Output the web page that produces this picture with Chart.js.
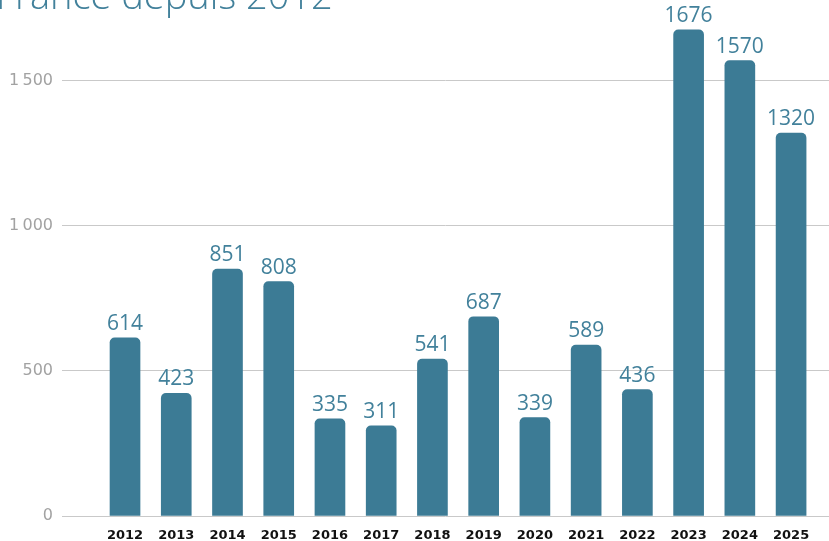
<!DOCTYPE html>
<html>
<head>
<meta charset="utf-8">
<script src="https://cdn.jsdelivr.net/npm/chart.js@4.4.1/dist/chart.umd.min.js"></script>
<style>
  html, body { margin: 0; padding: 0; background: #fff; }
  #wrap { position: relative; width: 829px; height: 541px; }
</style>
</head>
<body>
<div id="wrap"><canvas id="myChart" width="829" height="541"></canvas></div>
<script>
// yearly totals
var years = ['2012', '2013', '2014', '2015', '2016', '2017', '2018', '2019', '2020', '2021', '2022', '2023', '2024', '2025'];
var counts = [614, 423, 851, 808, 335, 311, 541, 687, 339, 589, 436, 1676, 1570, 1320];
var yTicks = [0, 500, 1000, 1500];
var titleText = 'France depuis 2012';

var barColor = '#3c7b95';
var labelColor = '#42819b';

function formatNumber(v) {
  // french style thousands separator
  var s = String(v);
  if (v >= 1000) s = s.slice(0, s.length - 3) + '\u202f' + s.slice(-3);
  return s;
}

function noPadding(axis) {
  axis.paddingTop = 0;
  axis.paddingBottom = 0;
  axis.paddingLeft = 0;
  axis.paddingRight = 0;
}

// value above each bar
var valueLabels = {
  id: 'valueLabels',
  afterDatasetsDraw: function (chart) {
    var ctx = chart.ctx;
    var meta = chart.getDatasetMeta(0);
    ctx.save();
    ctx.font = '400 21px "Open Sans"';
    ctx.fillStyle = labelColor;
    ctx.textAlign = 'center';
    ctx.textBaseline = 'alphabetic';
    meta.data.forEach(function (bar, i) {
      ctx.fillText(String(counts[i]), bar.x, bar.y - 8);
    });
    ctx.restore();
  }
};

// heading, mostly off the top of the canvas
var heading = {
  id: 'heading',
  afterDraw: function (chart) {
    var ctx = chart.ctx;
    ctx.save();
    ctx.font = '300 38px "Open Sans"';
    ctx.fillStyle = labelColor;
    ctx.textAlign = 'left';
    ctx.textBaseline = 'alphabetic';
    ctx.fillText(titleText, -4, 9);
    ctx.restore();
  }
};

var ctx = document.getElementById('myChart').getContext('2d');
var chart = new Chart(ctx, {
  type: 'bar',
  data: {
    datasets: [{
      data: counts.map(function (v, i) { return { x: i, y: v }; }),
      backgroundColor: barColor,
      borderRadius: 5,
      borderSkipped: 'bottom',
      barThickness: 30
    }]
  },
  options: {
    responsive: false,
    animation: false,
    layout: { padding: 0 },
    plugins: {
      legend: { display: false },
      tooltip: { enabled: false }
    },
    scales: {
      x: {
        type: 'linear',
        offset: false,
        min: -1.23,
        max: 13.74,
        grid: { display: false },
        border: { display: false },
        afterBuildTicks: function (axis) {
          axis.ticks = years.map(function (y, i) { return { value: i }; });
        },
        afterFit: function (axis) { axis.height = 25; noPadding(axis); },
        ticks: {
          autoSkip: false,
          maxRotation: 0,
          padding: 4,
          color: '#111',
          font: { family: 'DejaVu Sans', size: 13, weight: 'bold' },
          callback: function (v) { return years[v]; }
        }
      },
      y: {
        min: 0,
        max: 1779,
        border: { display: false },
        grid: { color: '#c9c9c9', lineWidth: 1, drawTicks: false },
        afterBuildTicks: function (axis) {
          axis.ticks = yTicks.map(function (v) { return { value: v }; });
        },
        afterFit: function (axis) { axis.width = 62; noPadding(axis); },
        ticks: {
          padding: 9,
          color: '#a2a2a2',
          font: { family: 'DejaVu Sans', size: 16, weight: 'normal' },
          callback: function (v) { return formatNumber(v); }
        }
      }
    }
  },
  plugins: [valueLabels, heading]
});
</script>
</body>
</html>
